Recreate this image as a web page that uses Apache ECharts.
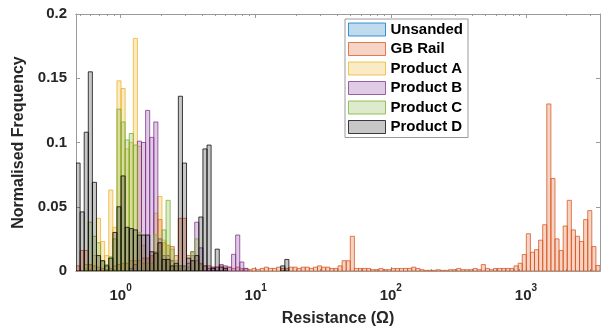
<!DOCTYPE html>
<html>
<head>
<meta charset="utf-8">
<script src="https://cdn.jsdelivr.net/npm/echarts@6.0.0/dist/echarts.min.js"></script>
<style>
  html, body { margin: 0; padding: 0; background: #fff; }
  #chart { width: 603px; height: 332px; }
</style>
</head>
<body>
<div id="chart"></div>
<script>
// shared log10 bin grid of the histograms
const binStart = -0.33;
const binWidth = 0.0303;
const binCount = 128;

const seriesNames = ['Unsanded', 'GB Rail', 'Product A', 'Product B', 'Product C', 'Product D'];

// normalised frequency per bin (bin 0 first)
const unsanded = [];
const gbRail = [
  0.004, 0.016, 0.016, 0.005, 0.004, 0.003, 0.002, 0.001, 0.002, 0.004,
  0.005, 0.006, 0.006, 0.008, 0.008, 0.008, 0.010, 0.010, 0.012, 0.015,
  0.040, 0.022, 0.020, 0.019, 0.012, 0.041, 0.041, 0.012, 0.012, 0.008,
  0.006, 0.004, 0.004, 0.003, 0.003, 0.004, 0.003, 0.003, 0.002, 0.003,
  0.002, 0.002, 0.001, 0.002, 0.001, 0.002, 0.003, 0.002, 0.002, 0.003,
  0.002, 0.002, 0.003, 0.003, 0.002, 0.003, 0.003, 0.002, 0.003, 0.004,
  0.003, 0.003, 0.002, 0.002, 0.004, 0.008, 0.008, 0.027, 0.002, 0.002,
  0.002, 0.002, 0.001, 0.001, 0.002, 0.001, 0.001, 0.002, 0.002, 0.002,
  0.002, 0.002, 0.003, 0.002, 0.001, 0.0005, 0.0005, 0.0005, 0.001, 0.0005,
  0.0005, 0.001, 0.001, 0.002, 0.001, 0.001, 0.001, 0.002, 0.001, 0.005,
  0.002, 0.001, 0.002, 0.002, 0.002, 0.002, 0.002, 0.004, 0.006, 0.0128,
  0.029, 0.0146, 0.0166, 0.024, 0.036, 0.130, 0.072, 0.025, 0.016, 0.035,
  0.055, 0.032, 0.027, 0.023, 0.040, 0.047, 0.019, 0.0043
];
const productA = [
  0, 0, 0.002, 0.004, 0.012, 0.041, 0.023, 0.012, 0.063, 0.034,
  0.148, 0.142, 0.095, 0.100, 0.181, 0.097, 0.020, 0.010, 0.012, 0.045,
  0.058, 0.024, 0.020, 0.008, 0.004, 0.002
];
const productB = [
  0, 0, 0, 0, 0, 0, 0, 0, 0, 0,
  0, 0, 0, 0.002, 0.005, 0.101, 0.100, 0.125, 0.104, 0.116,
  0.025, 0.012, 0.012, 0.008, 0.004, 0.004, 0.004, 0.006, 0.015, 0.038,
  0.018, 0.004, 0.002, 0.003, 0.003, 0.005, 0.004, 0.003, 0.013, 0.028,
  0.007, 0.002
];
const productC = [
  0, 0, 0.005, 0.038, 0.027, 0.022, 0.008, 0.005, 0.011, 0.025,
  0.126, 0.116, 0.102, 0.107, 0.098, 0.030, 0.006, 0.006, 0.006, 0.028,
  0.015, 0.032, 0.055, 0.017, 0.008, 0.004, 0.003, 0.003, 0.015, 0.025,
  0.005
];
const productD = [
  0.084, 0.046, 0.108, 0.155, 0.069, 0.012, 0.008, 0.004, 0.010, 0.030,
  0.050, 0.074, 0.034, 0.033, 0.032, 0.028, 0.028, 0.028, 0.015, 0.014,
  0.022, 0.009, 0.009, 0.004, 0.006, 0.136, 0.084, 0.010, 0.008, 0.012,
  0.042, 0.095, 0.098, 0.002, 0.017, 0.003, 0.002, 0, 0, 0,
  0, 0, 0, 0, 0, 0, 0, 0, 0, 0,
  0.004, 0.009
];

const xTickExponents = [0, 1, 2, 3];

const fills = ['rgba(0,114,189,0.25)', 'rgba(217,83,25,0.25)', 'rgba(237,177,32,0.25)',
  'rgba(126,47,142,0.25)', 'rgba(119,172,48,0.25)', 'rgba(0,0,0,0.22)'];
const edges = ['rgba(0,114,189,0.75)', 'rgba(217,83,25,0.75)', 'rgba(237,177,32,0.75)',
  'rgba(126,47,142,0.75)', 'rgba(119,172,48,0.75)', 'rgba(0,0,0,0.75)'];

const font = "'Liberation Sans', Arial, sans-serif";
const axisColor = '#9a9a9a';
const textColor = '#262626';

const xMin = binStart;
const xMax = binStart + binCount * binWidth;

// minor ticks at 2..9 x 10^n
const minorTicks = [];
for (let d = -1; d <= 3; d++) {
  for (let k = 2; k <= 9; k++) {
    const t = Math.log10(k) + d;
    if (t > xMin && t < xMax) minorTicks.push(t);
  }
}

function toBins(values) {
  return values.map((v, i) => [binStart + i * binWidth, binStart + (i + 1) * binWidth, v])
    .filter(d => d[2] > 0);
}

function makeRender(fill, stroke) {
  return function (params, api) {
    const p0 = api.coord([api.value(0), api.value(2)]);
    const p1 = api.coord([api.value(1), 0]);
    return {
      type: 'rect',
      shape: { x: p0[0], y: p0[1], width: p1[0] - p0[0], height: p1[1] - p0[1] },
      style: { fill: fill, stroke: stroke, lineWidth: 1 }
    };
  };
}

const allValues = [unsanded, gbRail, productA, productB, productC, productD];

function xAxisBase(pos, ticks, len) {
  return {
    type: 'value', min: xMin, max: xMax, position: pos,
    axisLine: { show: true, onZero: false, lineStyle: { color: axisColor, width: 1 } },
    axisTick: { show: true, inside: true, length: len, customValues: ticks, lineStyle: { color: axisColor } },
    axisLabel: { show: false },
    splitLine: { show: false }
  };
}

var chart = echarts.init(document.getElementById('chart'));

const bottomMajor = xAxisBase('bottom', xTickExponents, 4);
bottomMajor.axisLabel = {
  show: true,
  customValues: xTickExponents,
  margin: 12,
  formatter: function (v) { return '{b|10}{s|' + Math.round(v) + '}'; },
  rich: {
    b: { fontFamily: font, fontWeight: 'bold', fontSize: 15, color: textColor, lineHeight: 20, verticalAlign: 'bottom' },
    s: { fontFamily: font, fontWeight: 'bold', fontSize: 10, color: textColor, lineHeight: 10, verticalAlign: 'top' }
  }
};
bottomMajor.name = 'Resistance (\u03A9)';
bottomMajor.nameLocation = 'middle';
bottomMajor.nameGap = 40;
bottomMajor.nameTextStyle = { fontFamily: font, fontWeight: 'bold', fontSize: 16, color: textColor };

function yAxisBase(pos) {
  return {
    type: 'value', min: 0, max: 0.2, interval: 0.05, position: pos,
    axisLine: { show: true, onZero: false, lineStyle: { color: axisColor } },
    axisTick: { show: true, inside: true, length: 4, lineStyle: { color: axisColor } },
    axisLabel: { show: false },
    splitLine: { show: false }
  };
}

const leftY = yAxisBase('left');
leftY.name = 'Normalised Frequency';
leftY.nameLocation = 'middle';
leftY.nameGap = 44;
leftY.nameTextStyle = { fontFamily: font, fontWeight: 'bold', fontSize: 16, color: textColor };
leftY.axisLabel = { show: true, margin: 9, fontFamily: font, fontWeight: 'bold', fontSize: 15, color: textColor };

let option = {
  animation: false,
  grid: { left: 76, right: 3, top: 14, bottom: 57 },
  legend: {
    orient: 'vertical',
    left: 345, top: 19,
    itemWidth: 37, itemHeight: 13, itemGap: 4.5,
    padding: [3, 5, 3, 3],
    borderColor: axisColor, borderWidth: 1, backgroundColor: '#fff',
    selectedMode: false,
    icon: 'rect',
    textStyle: { fontFamily: font, fontWeight: 'bold', fontSize: 15, color: '#000' },
    data: seriesNames.map((n, k) => ({
      name: n,
      itemStyle: { color: fills[k], borderColor: edges[k], borderWidth: 1 }
    }))
  },
  xAxis: [
    bottomMajor,
    xAxisBase('bottom', minorTicks, 2),
    xAxisBase('top', xTickExponents, 4),
    xAxisBase('top', minorTicks, 2)
  ],
  yAxis: [leftY, yAxisBase('right')],
  series: seriesNames.map((n, k) => ({
    name: n,
    type: 'custom',
    xAxisIndex: 0,
    yAxisIndex: 0,
    clip: true,
    encode: { x: [0, 1], y: 2 },
    itemStyle: { color: fills[k], borderColor: edges[k] },
    renderItem: makeRender(fills[k], edges[k]),
    data: toBins(allValues[k])
  }))
};
chart.setOption(option);
</script>
</body>
</html>
